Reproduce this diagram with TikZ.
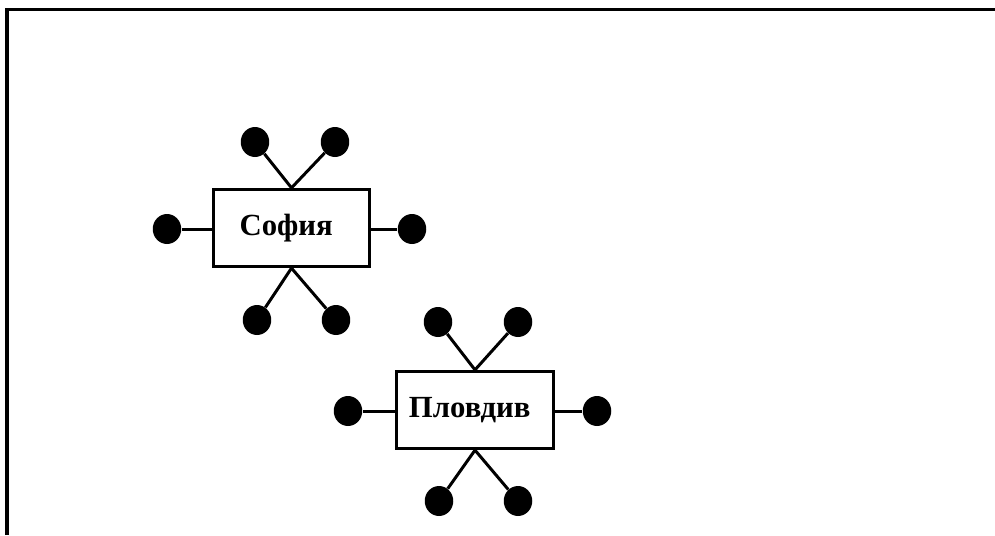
\documentclass[tikz,border=0pt]{standalone}
\usepackage{fontspec}
\setmainfont{Liberation Serif}
\usetikzlibrary{shapes.geometric}
\begin{document}
\begin{tikzpicture}[x=0.02cm,y=-0.02cm,
  city/.style={draw, line width=1.6pt, minimum width=3.13cm, minimum height=1.55cm,
    inner sep=0pt, font=\fontsize{17.5}{19}\selectfont\bfseries},
  pin/.style={ellipse, fill=black, inner sep=0pt, minimum width=0.57cm, minimum height=0.6cm},
  link/.style={line width=1.7pt},
  frame/.style={line width=1.8pt}]
  \useasboundingbox (0,0) rectangle (995,535);
  % outer frame (left and top edges)
  \draw[frame] (7,535) -- (7,9.5) -- (995,9.5);

  % Sofia with its six pins
  \node[city] (sofia) at (291.5,228) {\hspace*{-6pt}София};
  \node[pin] (sa) at (255,142) {};
  \node[pin] (sb) at (335,142) {};
  \node[pin] (sc) at (167,229) {};
  \node[pin] (sd) at (412,229) {};
  \node[pin] (se) at (257,320) {};
  \node[pin] (sf) at (336,320) {};
  \draw[link] (sofia.north) -- (sa);
  \draw[link] (sofia.north) -- (sb);
  \draw[link] (sofia.west |- sc) -- (sc);
  \draw[link] (sofia.east |- sd) -- (sd);
  \draw[link] (sofia.south) -- (se);
  \draw[link] (sofia.south) -- (sf);

  % Plovdiv with its six pins
  \node[city] (plovdiv) at (475,410) {\hspace*{-6pt}Пловдив};
  \node[pin] (pa) at (438,322) {};
  \node[pin] (pb) at (518,322) {};
  \node[pin] (pc) at (348,411) {};
  \node[pin] (pd) at (597,411) {};
  \node[pin] (pe) at (439,501) {};
  \node[pin] (pf) at (518,501) {};
  \draw[link] (plovdiv.north) -- (pa);
  \draw[link] (plovdiv.north) -- (pb);
  \draw[link] (plovdiv.west |- pc) -- (pc);
  \draw[link] (plovdiv.east |- pd) -- (pd);
  \draw[link] (plovdiv.south) -- (pe);
  \draw[link] (plovdiv.south) -- (pf);
\end{tikzpicture}
\end{document}
